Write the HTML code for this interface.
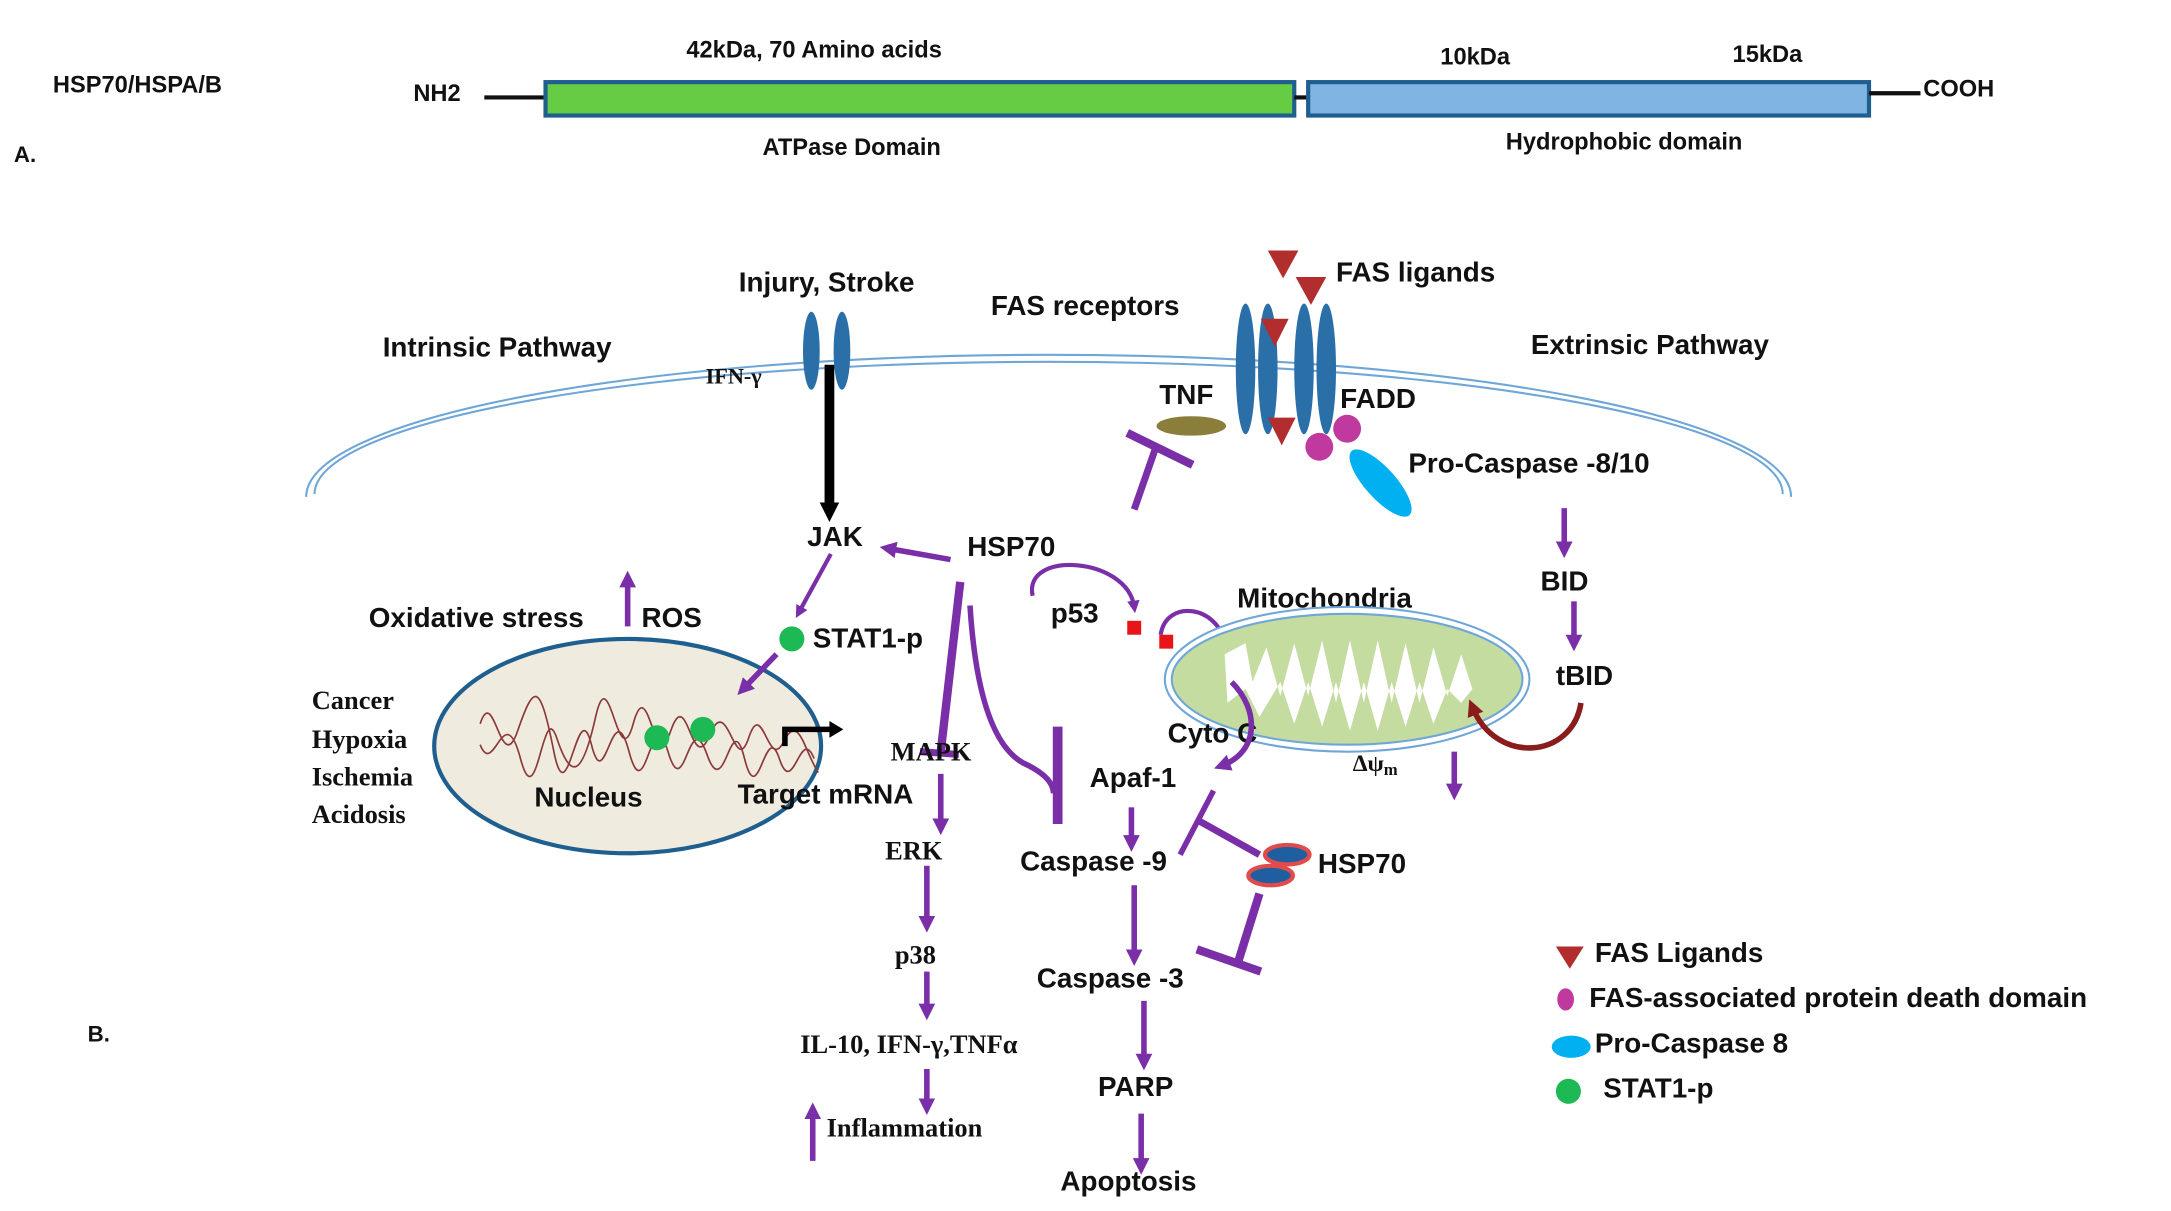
<!DOCTYPE html>
<html><head><meta charset="utf-8"><style>
html,body{margin:0;padding:0;background:#fff;}
svg{display:block}
text{font-family:"Liberation Sans",sans-serif;font-weight:bold;fill:#111;dominant-baseline:middle}
.s{font-family:"Liberation Serif",serif}
.p{stroke:#7a2fa8;fill:none;stroke-width:4}
</style></head><body>
<svg width="2171" height="1211" viewBox="0 0 1560 870" preserveAspectRatio="none" xmlns="http://www.w3.org/2000/svg">
<defs>
<marker id="ap" markerWidth="3" markerHeight="3" refX="1.5" refY="1.5" orient="auto"><path d="M0,0 L3,1.5 L0,3 z" fill="#7a2fa8"/></marker>
<marker id="ab" markerWidth="2" markerHeight="2" refX="1" refY="1" orient="auto"><path d="M0,0 L2,1 L0,2 z" fill="#000"/></marker>
<marker id="ar" markerWidth="3" markerHeight="3" refX="1.5" refY="1.5" orient="auto"><path d="M0,0 L3,1.5 L0,3 z" fill="#8b1c1c"/></marker>
</defs>
<!-- Part A -->
<text x="38" y="62" font-size="17">HSP70/HSPA/B</text>
<text x="10" y="112" font-size="16">A.</text>
<text x="297" y="68" font-size="17">NH2</text>
<line x1="348" y1="70" x2="392" y2="70" stroke="#111" stroke-width="3"/>
<rect x="392" y="59" width="538" height="24" fill="#66cc44" stroke="#1f5f8f" stroke-width="3"/>
<line x1="930" y1="70" x2="940" y2="70" stroke="#111" stroke-width="3"/>
<rect x="940" y="59" width="403" height="24" fill="#80b4e2" stroke="#1f5f8f" stroke-width="3"/>
<line x1="1343" y1="67" x2="1380" y2="67" stroke="#111" stroke-width="3"/>
<text x="1382" y="65" font-size="17">COOH</text>
<text x="585" y="37" font-size="17" text-anchor="middle">42kDa, 70 Amino acids</text>
<text x="1060" y="42" font-size="17" text-anchor="middle">10kDa</text>
<text x="1270" y="40" font-size="17" text-anchor="middle">15kDa</text>
<text x="612" y="107" font-size="17" text-anchor="middle">ATPase Domain</text>
<text x="1167" y="103" font-size="17" text-anchor="middle">Hydrophobic domain</text>
<!-- membrane -->
<path d="M220 357 A533 102 0 0 1 1287 357" fill="none" stroke="#6fa6d8" stroke-width="1.5"/>
<path d="M226 355 A527 95 0 0 1 1281 355" fill="none" stroke="#6fa6d8" stroke-width="1.5"/>
<text x="594" y="204" font-size="20" text-anchor="middle">Injury, Stroke</text>
<ellipse cx="583" cy="252" rx="6" ry="28" fill="#2a6fa8"/>
<ellipse cx="605" cy="252" rx="6" ry="28" fill="#2a6fa8"/>
<text x="507" y="272" font-size="16" class="s">IFN-γ</text>
<line x1="596" y1="262" x2="596" y2="368" stroke="#000" stroke-width="7" marker-end="url(#ab)"/>
<text x="600" y="387" font-size="20" text-anchor="middle">JAK</text>
<text x="275" y="251" font-size="20">Intrinsic Pathway</text>
<text x="712" y="221" font-size="20">FAS receptors</text>
<text x="960" y="197" font-size="20">FAS ligands</text>
<g fill="#2a6fa8"><ellipse cx="895" cy="265" rx="7" ry="47"/><ellipse cx="911" cy="265" rx="7" ry="47"/><ellipse cx="937" cy="265" rx="7" ry="47"/><ellipse cx="953" cy="265" rx="7" ry="47"/></g>
<g fill="#b22e2e"><path d="M911 180 h22 l-11 20z"/><path d="M931 199 h22 l-11 20z"/><path d="M906 229 h20 l-10 20z"/><path d="M911 300 h20 l-10 20z"/></g>
<text x="833" y="285" font-size="20">TNF</text>
<ellipse cx="856" cy="306" rx="25" ry="7" fill="#8b7d3a"/>
<text x="963" y="288" font-size="20">FADD</text>
<circle cx="948" cy="321" r="10" fill="#c0399e"/><circle cx="968" cy="308" r="10" fill="#c0399e"/>
<ellipse cx="992" cy="347" rx="31" ry="11" fill="#00b0f0" transform="rotate(48 992 347)"/>
<text x="1012" y="334" font-size="20">Pro-Caspase -8/10</text>
<text x="1100" y="249" font-size="20">Extrinsic Pathway</text>
<line x1="815" y1="366" x2="831" y2="320" stroke="#7a2fa8" stroke-width="5"/>
<line x1="810" y1="311" x2="857" y2="334" stroke="#7a2fa8" stroke-width="6"/>
<text x="695" y="394" font-size="20">HSP70</text>
<line x1="683" y1="402" x2="638" y2="394" class="p" marker-end="url(#ap)"/>
<line x1="597" y1="398" x2="574" y2="440" stroke="#7a2fa8" stroke-width="3" marker-end="url(#ap)"/>
<circle cx="569" cy="459" r="9" fill="#1db954"/>
<text x="584" y="460" font-size="20">STAT1-p</text>
<text x="265" y="445" font-size="20">Oxidative stress</text>
<text x="461" y="445" font-size="20">ROS</text>
<line x1="451" y1="450" x2="451" y2="416" class="p" marker-end="url(#ap)"/>
<ellipse cx="451" cy="536" rx="139" ry="77" fill="#efebdf" stroke="#1f5f8f" stroke-width="3"/>
<path d="M345 520 C355 490 360 560 372 525 S388 490 398 540 S415 495 425 535 S440 495 452 540 S468 500 480 540 S495 505 508 542 S525 505 535 545 S550 515 560 545 S575 520 585 545" fill="none" stroke="#8b3a3a" stroke-width="1.2"/>
<path d="M345 535 C355 560 362 500 374 545 S390 500 400 530 S418 560 428 515 S444 560 455 520 S470 560 482 525 S497 560 510 528 S528 560 538 530 S552 555 563 533 S578 540 588 555" fill="none" stroke="#8b3a3a" stroke-width="1.2"/>
<circle cx="472" cy="530" r="9" fill="#1db954"/><circle cx="505" cy="524" r="9" fill="#1db954"/>
<path d="M564 536 V524 H598" fill="none" stroke="#000" stroke-width="4"/><path d="M596 518 L606 524 L596 530z"/>
<text x="384" y="574" font-size="20">Nucleus</text>
<text x="530" y="572" font-size="20">Target mRNA</text>
<line x1="558" y1="470" x2="534" y2="495" class="p" marker-end="url(#ap)"/>
<g class="s" font-size="19"><text x="224" y="505" class="s">Cancer</text><text x="224" y="533" class="s">Hypoxia</text><text x="224" y="560" class="s">Ischemia</text><text x="224" y="587" class="s">Acidosis</text></g>
<line x1="690" y1="418" x2="676" y2="540" stroke="#7a2fa8" stroke-width="6"/>
<line x1="661" y1="540" x2="689" y2="542" stroke="#7a2fa8" stroke-width="5"/>
<path d="M697 435 Q703 530 735 548 Q757 558 757 570" class="p"/>
<line x1="760" y1="522" x2="760" y2="592" stroke="#7a2fa8" stroke-width="7"/>
<text x="640" y="542" font-size="19" class="s">MAPK</text>
<text x="636" y="613" font-size="19" class="s">ERK</text>
<text x="643" y="688" font-size="19" class="s">p38</text>
<text x="575" y="752" font-size="19" class="s">IL-10, IFN-γ,TNFα</text>
<text x="594" y="812" font-size="19" class="s">Inflammation</text>
<line x1="584" y1="834" x2="584" y2="798" class="p" marker-end="url(#ap)"/>
<line x1="676" y1="556" x2="676" y2="594" class="p" marker-end="url(#ap)"/>
<line x1="666" y1="622" x2="666" y2="664" class="p" marker-end="url(#ap)"/>
<line x1="666" y1="698" x2="666" y2="727" class="p" marker-end="url(#ap)"/>
<line x1="666" y1="768" x2="666" y2="795" class="p" marker-end="url(#ap)"/>
<text x="755" y="442" font-size="20">p53</text>
<path d="M742 428 C735 395 810 400 815 436" stroke="#7a2fa8" stroke-width="3" fill="none" marker-end="url(#ap)"/>
<rect x="810" y="446" width="10" height="10" fill="#e8141a"/><rect x="833" y="456" width="10" height="10" fill="#e8141a"/>
<path d="M834 456 C838 430 875 435 880 462" stroke="#7a2fa8" stroke-width="3" fill="none"/>
<text x="889" y="431" font-size="20">Mitochondria</text>
<ellipse cx="968" cy="488" rx="131" ry="52" fill="#fff" stroke="#6fa6d8" stroke-width="1.5"/>
<ellipse cx="968" cy="488" rx="126" ry="47" fill="#c5dca0" stroke="#6fa6d8" stroke-width="1.5"/>
<path d="M880 470 L895 462 L900 490 L910 465 L920 500 L930 462 L940 500 L950 460 L960 505 L970 460 L980 505 L990 460 L1000 505 L1010 462 L1020 505 L1030 465 L1040 500 L1050 470 L1058 495 L1050 505 L1040 495 L1030 520 L1020 490 L1010 522 L1000 490 L990 525 L980 490 L970 525 L960 490 L950 522 L940 490 L930 520 L920 490 L905 515 L895 495 L882 505z" fill="#fff"/>
<text x="839" y="528" font-size="20">Cyto C</text>
<path d="M885 490 C905 510 905 540 878 550" class="p" stroke-width="5" marker-end="url(#ap)"/>
<text x="972" y="550" font-size="17" class="s" font-weight="normal">Δψ<tspan font-size="12" dy="4">m</tspan></text>
<line x1="1045" y1="540" x2="1045" y2="569" class="p" marker-end="url(#ap)"/>
<text x="1107" y="419" font-size="20">BID</text>
<line x1="1124" y1="365" x2="1124" y2="395" class="p" marker-end="url(#ap)"/>
<text x="1118" y="487" font-size="20">tBID</text>
<line x1="1131" y1="432" x2="1131" y2="462" class="p" marker-end="url(#ap)"/>
<path d="M1136 505 C1130 545 1075 550 1058 508" stroke="#8b1c1c" stroke-width="4" fill="none" marker-end="url(#ar)"/>
<text x="783" y="560" font-size="20">Apaf-1</text>
<line x1="813" y1="580" x2="813" y2="606" class="p" marker-end="url(#ap)"/>
<text x="733" y="620" font-size="20">Caspase -9</text>
<line x1="815" y1="636" x2="815" y2="688" class="p" stroke-width="5" marker-end="url(#ap)"/>
<text x="745" y="704" font-size="20">Caspase -3</text>
<line x1="822" y1="719" x2="822" y2="763" class="p" stroke-width="5" marker-end="url(#ap)"/>
<text x="789" y="782" font-size="20">PARP</text>
<line x1="820" y1="800" x2="820" y2="838" class="p" stroke-width="5" marker-end="url(#ap)"/>
<text x="762" y="850" font-size="20">Apoptosis</text>
<line x1="872" y1="568" x2="848" y2="614" class="p"/>
<line x1="862" y1="590" x2="905" y2="614" stroke="#7a2fa8" stroke-width="5"/>
<line x1="905" y1="642" x2="890" y2="690" stroke="#7a2fa8" stroke-width="6"/>
<line x1="860" y1="682" x2="906" y2="698" stroke="#7a2fa8" stroke-width="6"/>
<ellipse cx="925" cy="614" rx="16" ry="7" fill="#1f5f9f" stroke="#e24b4b" stroke-width="3"/>
<ellipse cx="913" cy="629" rx="16" ry="7" fill="#1f5f9f" stroke="#e24b4b" stroke-width="3"/>
<text x="947" y="622" font-size="20">HSP70</text>
<path d="M1118 680 h20 l-10 16z" fill="#b22e2e"/>
<text x="1146" y="686" font-size="20">FAS Ligands</text>
<ellipse cx="1125" cy="718" rx="6" ry="8" fill="#c0399e"/>
<text x="1142" y="718" font-size="20">FAS-associated protein death domain</text>
<ellipse cx="1129" cy="752" rx="14" ry="8" fill="#00b0f0"/>
<text x="1146" y="751" font-size="20">Pro-Caspase 8</text>
<circle cx="1127" cy="784" r="9" fill="#1db954"/>
<text x="1152" y="783" font-size="20">STAT1-p</text>
<text x="63" y="744" font-size="16">B.</text>
</svg>
</body></html>
